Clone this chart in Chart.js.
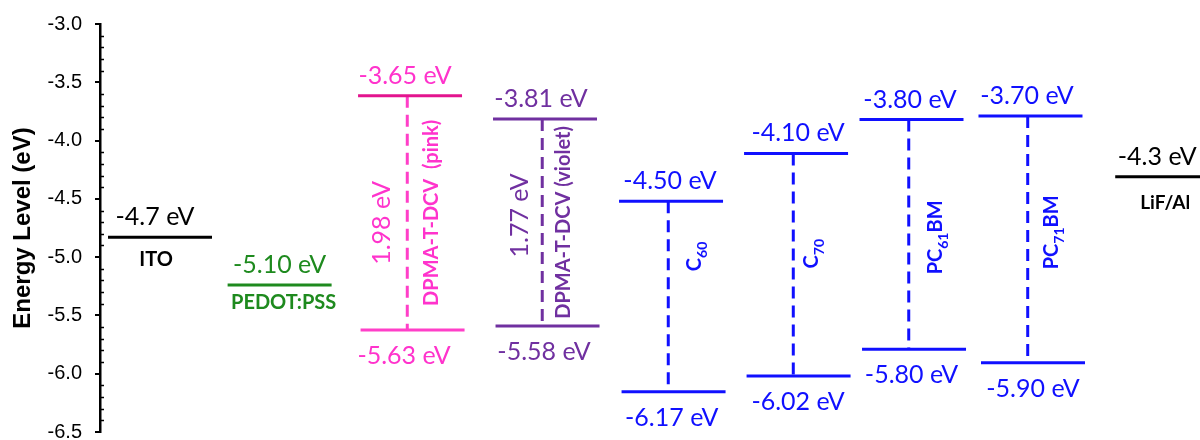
<!DOCTYPE html>
<html><head><meta charset="utf-8">
<script src="https://cdn.jsdelivr.net/npm/chart.js@4.4.1/dist/chart.umd.min.js"></script>
<style>html,body{margin:0;padding:0;background:#fff;overflow:hidden}#wrap{width:1200px;height:440px;position:relative}</style>
</head><body><div id="wrap"><canvas id="c" width="1200" height="440"></canvas></div>
<script>
// ---------- data ----------
const materials   = ['ITO','PEDOT:PSS','DPMA-T-DCV  (pink)','DPMA-T-DCV (violet)','C60','C70','PC61BM','PC71BM','LiF/Al'];
const upperLevels = [-4.83, -5.24, -3.615, -3.815, -4.52, -4.11, -3.82, -3.79, -4.31];
const lowerLevels = [null, null, -5.625, -5.59, -6.155, -6.02, -5.79, -5.905, null];
const upperLabels = ['-4.7 eV','-5.10 eV','-3.65 eV','-3.81 eV','-4.50 eV','-4.10 eV','-3.80 eV','-3.70 eV','-4.3 eV'];
const lowerLabels = [null, null, '-5.63 eV','-5.58 eV','-6.17 eV','-6.02 eV','-5.80 eV','-5.90 eV', null];
const gapLabels   = [null, null, '1.98 eV','1.77 eV', null, null, null, null, null];
const yTicks      = [-3.0, -3.5, -4.0, -4.5, -5.0, -5.5, -6.0, -6.5];

// ---------- layout & style ----------
const slotNudge   = [0, -0.05, -0.014, 0.058, 0.059, 0.052, -0.031, -0.086, 0];
const HALF = 0.413, BOT_SHIFT = 0.02, DASH_SHIFT = -0.022;
const topColors  = ['#000000','#1e8a1e','#e3148e','#7030a0','#1010ff','#1010ff','#1010ff','#1010ff','#000000'];
const botColors  = [null,null,'#ff3fc8','#7030a0','#1010ff','#1010ff','#1010ff','#1010ff',null];
const textColors = ['#000000','#1e8a1e','#ff33cc','#7030a0','#1010ff','#1010ff','#1010ff','#1010ff','#000000'];
const subscripts = {'C60':[['C',0],['60',1]],'C70':[['C',0],['70',1]],'PC61BM':[['PC',0],['61',1],['BM',0]],'PC71BM':[['PC',0],['71',1],['BM',0]]};
const topDx   = [-5,0,-5,-4,-1,2,-1.5,-3.5,-10];
const botDx   = [0,0,-6,-1,0.7,2,0,2.5,0];
const nameDx  = [-4,4,21,18,23,15,23.5,20.5,-2];
const nameDy  = [29,24,0,0,-40,-11,3,-7,32];
const gapDx   = [0,0,-29,-26,0,0,0,0,0];
const gapDy   = [0,0,10,-7,0,0,0,0,0];
const ROT_SIZE = 20;
const VAL_FONT = '25px Lato', NAME_FONT = 'bold 20px Lato', LIF_FONT = 'bold 19px Lato',
      ROT_FONT = 'bold ' + ROT_SIZE + 'px Lato', SUB_FONT = 'bold 14px Lato';

function draw(){
  const xc = i => i + slotNudge[i];
  const datasets = [];
  materials.forEach((m,i)=>{
    const c = xc(i);
    datasets.push({data:[{x:c-HALF,y:upperLevels[i]},{x:c+HALF,y:upperLevels[i]}],borderColor:topColors[i],borderWidth:3});
    if (lowerLevels[i] !== null){
      datasets.push({data:[{x:c-HALF+BOT_SHIFT,y:lowerLevels[i]},{x:c+HALF+BOT_SHIFT,y:lowerLevels[i]}],borderColor:botColors[i],borderWidth:3});
      datasets.push({data:[{x:c+DASH_SHIFT,y:upperLevels[i]},{x:c+DASH_SHIFT,y:lowerLevels[i]}],borderColor:botColors[i],borderWidth:3,borderDash:[12,7]});
    }
  });

  function drawParts(ctx, parts, cx, cy, size){
    let total = 0;
    const w = parts.map(p=>{ctx.font = p[1]?SUB_FONT:ROT_FONT; const m = ctx.measureText(p[0]).width; total += m; return m;});
    let x = -total/2;
    ctx.save(); ctx.translate(cx, cy); ctx.rotate(-Math.PI/2);
    ctx.textAlign='left'; ctx.textBaseline='alphabetic';
    parts.forEach((p,k)=>{
      ctx.font = p[1]?SUB_FONT:ROT_FONT;
      ctx.fillText(p[0], x, 0.36*size + (p[1]?0.3*size:0));
      x += w[k];
    });
    ctx.restore();
  }

  const textPlugin = {
    id:'energyText',
    afterDraw(chart){
      const ctx = chart.ctx, xs = chart.scales.x, ys = chart.scales.y;
      ctx.save();
      // minor ticks (inside, every 0.1)
      ctx.strokeStyle='#000'; ctx.lineWidth=1.5;
      const ax = chart.chartArea.left;
      for (let k=1;k<35;k++){
        if (k%5===0) continue;
        const y = Math.round(ys.getPixelForValue(-3.0 - k*0.1))+0.5;
        ctx.beginPath(); ctx.moveTo(ax, y); ctx.lineTo(ax+4, y); ctx.stroke();
      }
      materials.forEach((m,i)=>{
        const cx = xs.getPixelForValue(xc(i));
        const yt = ys.getPixelForValue(upperLevels[i]);
        ctx.fillStyle = textColors[i];
        ctx.textAlign='center'; ctx.textBaseline='alphabetic';
        ctx.font = VAL_FONT;
        ctx.fillText(upperLabels[i], cx+topDx[i], yt-12);
        if (lowerLevels[i] !== null){
          const yb = ys.getPixelForValue(lowerLevels[i]);
          ctx.font = VAL_FONT;
          ctx.fillText(lowerLabels[i], cx+botDx[i], yb+34);
          const ym = (yt+yb)/2;
          if (gapLabels[i]){
            ctx.save(); ctx.translate(cx+gapDx[i], ym+gapDy[i]); ctx.rotate(-Math.PI/2);
            ctx.font = VAL_FONT; ctx.textAlign='center'; ctx.textBaseline='alphabetic';
            ctx.fillText(gapLabels[i], 0, 0.36*25);
            ctx.restore();
          }
          const parts = subscripts[m] || [[m,0]];
          drawParts(ctx, parts, cx+nameDx[i], ym+nameDy[i], ROT_SIZE);
        } else {
          ctx.font = (i===8)?LIF_FONT:NAME_FONT;
          ctx.fillText(m, cx+nameDx[i], yt+nameDy[i]);
        }
      });
      ctx.restore();
    }
  };

  new Chart(document.getElementById('c'), {
    type:'line',
    data:{datasets},
    options:{
      responsive:false, animation:false,
      layout:{padding:{top:24,bottom:8,left:0,right:0}},
      plugins:{legend:{display:false},tooltip:{enabled:false}},
      elements:{point:{radius:0},line:{tension:0}},
      scales:{
        x:{type:'linear',display:false,min:-0.4766,max:8.2604},
        y:{type:'linear',min:-6.5,max:-3.0,
           afterBuildTicks:s=>{s.ticks = yTicks.map(v=>({value:v}));},
           afterFit:s=>{s.width=100; s.paddingTop=0; s.paddingBottom=0;},
           ticks:{color:'#000',font:{family:'Liberation Sans',size:20},padding:13,callback:v=>Number(v).toFixed(1)},
           grid:{display:true,drawOnChartArea:false,drawTicks:true,tickLength:5,color:'#000',lineWidth:2},
           border:{display:true,color:'#000',width:2.5},
           title:{display:true,text:'Energy Level (eV)',color:'#000',font:{family:'Liberation Sans',weight:'bold',size:24},padding:{top:9,bottom:0}}
        }
      }
    },
    plugins:[textPlugin]
  });
}
Promise.all([document.fonts.load('25px Lato'),document.fonts.load('bold 20px Lato')]).then(draw, draw);
</script></body></html>
